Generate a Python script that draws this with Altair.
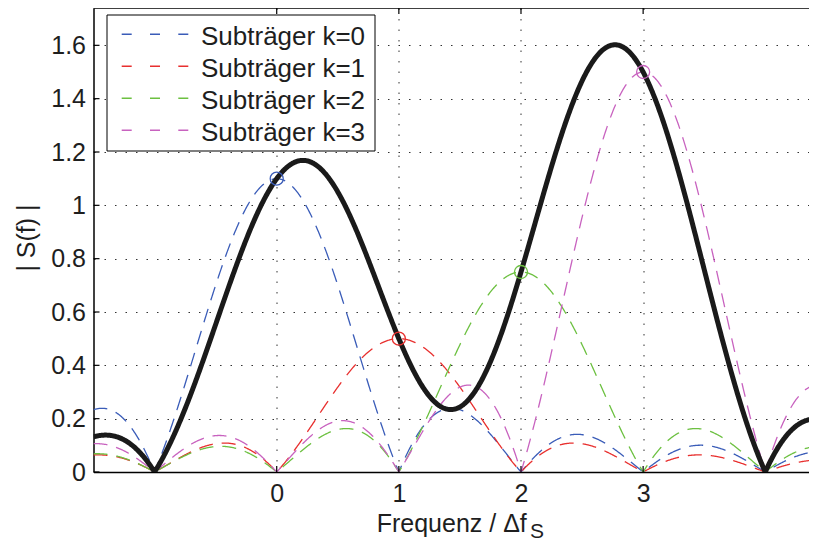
import numpy as np
import pandas as pd
import altair as alt

# ---- values ----
subcarrier_k = [0, 1, 2, 3]
amplitudes = [1.1, 0.5, 0.75, 1.5]          # circle markers at (k, a_k)
series_names = ["Subträger k=0", "Subträger k=1", "Subträger k=2", "Subträger k=3"]
series_colors = ["#3a5cb8", "#e8302f", "#6cc040", "#c862bf"]
x_tick_values = [0, 1, 2, 3]
y_tick_values = [0, 0.2, 0.4, 0.6, 0.8, 1.0, 1.2, 1.4, 1.6]
x_range = [-1.5, 4.358]
y_range = [0, 1.74]
x_title = "Frequenz / Δf"
x_title_sub = "S"
y_title = "| S(f) |"

FONT = "Liberation Sans"
W, H = 715.5, 464

# OFDM spectrum: each subcarrier is a sinc centred at k with amplitude a_k
freq = np.linspace(-1.5, 4.5, 1201)
total = np.zeros_like(freq)
frames = []
for k, a, name in zip(subcarrier_k, amplitudes, series_names):
    s = a * np.sinc(freq - k)
    total += s
    frames.append(pd.DataFrame({"f": freq, "v": np.abs(s), "name": name}))
sub_df = pd.concat(frames, ignore_index=True)
sum_df = pd.DataFrame({"f": freq, "v": np.abs(total)})
marker_df = pd.DataFrame({"f": subcarrier_k, "v": amplitudes, "name": series_names})

xs = alt.Scale(domain=x_range, nice=False, zero=False)
ys = alt.Scale(domain=y_range, nice=False, zero=False)
cs = alt.Scale(domain=series_names, range=series_colors)

X = alt.X("f:Q", scale=xs, title=None,
          axis=alt.Axis(values=x_tick_values, grid=True, format="~g"))
Y = alt.Y("v:Q", scale=ys, title=None,
          axis=alt.Axis(values=y_tick_values, grid=True, format="~g"))

dashed = alt.Chart(sub_df).mark_line(
    strokeDash=[14, 9], strokeWidth=1.3, clip=True
).encode(x=X, y=Y, color=alt.Color("name:N", scale=cs, legend=None),
         detail="name:N")

solid = alt.Chart(sum_df).mark_line(
    color="#1a1a1a", strokeWidth=5, clip=True
).encode(x=X, y=Y)

markers = alt.Chart(marker_df).mark_point(
    shape="circle", filled=False, size=170, strokeWidth=1.3, opacity=1
).encode(x=X, y=Y, color=alt.Color("name:N", scale=cs, legend=None))

# inward ticks (MATLAB style)
ytick_df = pd.DataFrame({"v": y_tick_values})
xtick_df = pd.DataFrame({"f": x_tick_values})
yticks = alt.Chart(ytick_df).mark_rule(color="#000", strokeWidth=1.2).encode(
    y=alt.Y("v:Q", scale=ys, title=None), x=alt.value(0), x2=alt.value(6))
xticks_b = alt.Chart(xtick_df).mark_rule(color="#000", strokeWidth=1.2).encode(
    x=alt.X("f:Q", scale=xs, title=None), y=alt.value(H), y2=alt.value(H - 6))
xticks_t = alt.Chart(xtick_df).mark_rule(color="#000", strokeWidth=1.2).encode(
    x=alt.X("f:Q", scale=xs, title=None), y=alt.value(0), y2=alt.value(6))

one = pd.DataFrame({"a": [0]})
top_line = alt.Chart(one).mark_rule(color="#000", strokeWidth=1.5).encode(
    x=alt.value(0), x2=alt.value(W), y=alt.value(0))

# legend box
legend_layers = [
    alt.Chart(one).mark_rect(fill="white", stroke="#000", strokeWidth=1).encode(
        x=alt.value(13.5), x2=alt.value(281.5), y=alt.value(7), y2=alt.value(143))
]
for i, (name, col) in enumerate(zip(series_names, series_colors)):
    legend_layers.append(
        alt.Chart(one).mark_rule(color=col, strokeWidth=1.5, strokeDash=[10, 18.3]).encode(
            x=alt.value(28.2), x2=alt.value(97), y=alt.value(26.3 + 32 * i)))
    legend_layers.append(
        alt.Chart(pd.DataFrame({"t": [name]})).mark_text(
            align="left", baseline="alphabetic", font=FONT, fontSize=26, color="#1e1e1e"
        ).encode(text="t:N", x=alt.value(107.5), y=alt.value(36.5 + 32 * i)))

# axis titles
xt = alt.Chart(pd.DataFrame({"t": [x_title]})).mark_text(
    align="left", baseline="alphabetic", font=FONT, fontSize=25, color="#1e1e1e"
).encode(text="t:N", x=alt.value(283.2), y=alt.value(524))
xts = alt.Chart(pd.DataFrame({"t": [x_title_sub]})).mark_text(
    align="left", baseline="alphabetic", font=FONT, fontSize=21, color="#1e1e1e"
).encode(text="t:N", x=alt.value(436.5), y=alt.value(530))
yt = alt.Chart(pd.DataFrame({"t": [y_title]})).mark_text(
    align="center", baseline="middle", font=FONT, fontSize=25, angle=270, color="#1e1e1e"
).encode(text="t:N", x=alt.value(-66.5), y=alt.value(230))

chart = alt.layer(
    dashed, solid, markers, yticks, xticks_b, xticks_t, top_line,
    *legend_layers, xt, xts, yt
).properties(
    width=W, height=H,
    padding={"left": 85.5, "top": 0, "right": 0, "bottom": 70},
    autosize="none",
).configure_view(stroke=None).configure_axis(
    domainColor="#000", domainWidth=1.5, ticks=False, tickSize=0,
    labelFont=FONT, labelFontSize=25, labelColor="#1e1e1e",
    gridColor="#333", gridDash=[1.5, 9], gridWidth=1, gridOpacity=1,
).configure_axisX(labelPadding=9).configure_axisY(labelPadding=8)

chart.save("out.html", embed_options={"renderer": "svg", "actions": False})
